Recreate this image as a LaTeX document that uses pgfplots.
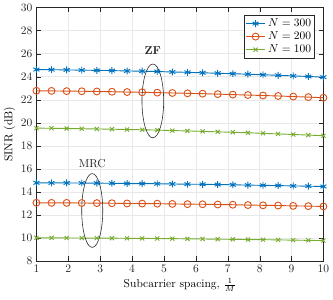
\documentclass[border=0pt]{standalone}
\usepackage{pgfplots}
\pgfplotsset{compat=1.18}
\definecolor{mb}{rgb}{0,0.447,0.741}
\definecolor{mo}{rgb}{0.85,0.325,0.098}
\definecolor{mg}{rgb}{0.466,0.674,0.188}
\definecolor{ax}{rgb}{0.15,0.15,0.15}
\begin{document}
\begin{tikzpicture}
\begin{axis}[
  scale only axis, width=250pt, height=221pt,
  xmin=1, xmax=10, ymin=8, ymax=30,
  xtick={1,2,...,10}, ytick={8,10,...,30},
  grid=major, major grid style={gray!18},
  axis line style={ax}, tick style={ax}, ticklabel style={text=ax},
  tick align=inside, tick pos=both,
  xlabel={Subcarrier spacing, $\frac{1}{M}$}, ylabel={SINR (dB)},
  xlabel style={yshift=2pt}, ylabel style={yshift=-2pt},
  legend pos=north east,
  legend style={draw=ax, font=\normalsize, row sep=-1pt, inner sep=1pt},
  legend cell align=left,
  every axis plot/.append style={line width=0.8pt},
]
\addplot[mb, mark=asterisk, mark size=3pt] coordinates {(1,24.62)(1.4737,24.61)(1.9474,24.59)(2.4211,24.57)(2.8947,24.55)(3.3684,24.53)(3.8421,24.50)(4.3158,24.48)(4.7895,24.45)(5.2632,24.41)(5.7368,24.38)(6.2105,24.34)(6.6842,24.30)(7.1579,24.26)(7.6316,24.22)(8.1053,24.17)(8.5789,24.12)(9.0526,24.07)(9.5263,24.02)(10,23.96)};
\addlegendentry{$N=300$}
\addplot[mo, mark=o, mark size=3pt] coordinates {(1,22.78)(1.4737,22.77)(1.9474,22.75)(2.4211,22.74)(2.8947,22.72)(3.3684,22.70)(3.8421,22.67)(4.3158,22.65)(4.7895,22.62)(5.2632,22.59)(5.7368,22.56)(6.2105,22.53)(6.6842,22.49)(7.1579,22.45)(7.6316,22.41)(8.1053,22.37)(8.5789,22.33)(9.0526,22.28)(9.5263,22.23)(10,22.18)};
\addlegendentry{$N=200$}
\addplot[mg, mark=x, mark size=2.5pt] coordinates {(1,19.54)(1.4737,19.53)(1.9474,19.51)(2.4211,19.49)(2.8947,19.47)(3.3684,19.45)(3.8421,19.42)(4.3158,19.40)(4.7895,19.37)(5.2632,19.33)(5.7368,19.30)(6.2105,19.26)(6.6842,19.22)(7.1579,19.18)(7.6316,19.14)(8.1053,19.09)(8.5789,19.04)(9.0526,18.99)(9.5263,18.94)(10,18.88)};
\addlegendentry{$N=100$}
\addplot[mb, mark=asterisk, mark size=3pt, forget plot] coordinates {(1,14.80)(1.4737,14.79)(1.9474,14.79)(2.4211,14.78)(2.8947,14.77)(3.3684,14.76)(3.8421,14.74)(4.3158,14.73)(4.7895,14.72)(5.2632,14.70)(5.7368,14.68)(6.2105,14.67)(6.6842,14.65)(7.1579,14.63)(7.6316,14.60)(8.1053,14.58)(8.5789,14.56)(9.0526,14.53)(9.5263,14.51)(10,14.48)};
\addplot[mo, mark=o, mark size=3pt, forget plot] coordinates {(1,13.07)(1.4737,13.06)(1.9474,13.06)(2.4211,13.05)(2.8947,13.04)(3.3684,13.03)(3.8421,13.01)(4.3158,13.00)(4.7895,12.99)(5.2632,12.97)(5.7368,12.95)(6.2105,12.94)(6.6842,12.92)(7.1579,12.90)(7.6316,12.87)(8.1053,12.85)(8.5789,12.83)(9.0526,12.80)(9.5263,12.78)(10,12.75)};
\addplot[mg, mark=x, mark size=2.5pt, forget plot] coordinates {(1,10.03)(1.4737,10.03)(1.9474,10.02)(2.4211,10.01)(2.8947,10.01)(3.3684,10.00)(3.8421,9.99)(4.3158,9.98)(4.7895,9.97)(5.2632,9.96)(5.7368,9.94)(6.2105,9.93)(6.6842,9.91)(7.1579,9.90)(7.6316,9.88)(8.1053,9.87)(8.5789,9.85)(9.0526,9.83)(9.5263,9.81)(10,9.79)};
\draw[ax, line width=0.5pt] (axis cs:4.65,21.9) ellipse [x radius=0.34, y radius=3.2];
\draw[ax, line width=0.5pt] (axis cs:2.75,12.4) ellipse [x radius=0.33, y radius=3.2];
\node[ax, font=\bfseries] at (axis cs:4.65,26.3) {ZF};
\node[ax] at (axis cs:2.75,16.5) {MRC};
\node[ax, anchor=north east, inner sep=1pt] at ([yshift=-21pt,xshift=1pt]rel axis cs:1,0) {$\times10^{-3}$};
\end{axis}
\path ([yshift=-3pt]current bounding box.south) -- (current bounding box.south);
\end{tikzpicture}
\end{document}
